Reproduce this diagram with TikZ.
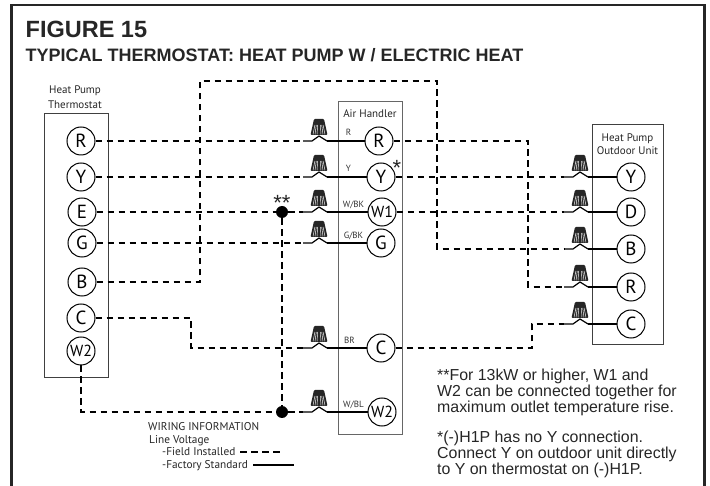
\documentclass[tikz,border=0pt]{standalone}
\usepackage{fontspec}
\setmainfont{Liberation Sans}
\newfontfamily\thinfont{PT Sans}
\tikzset{
  term/.style={circle, draw, line width=1pt, minimum size=28pt, inner sep=0pt, fill=white, font=\thinfont\fontsize{19}{19}\selectfont},
  termsm/.style={term, font=\thinfont\fontsize{16}{16}\selectfont},
  unitbox/.style={draw=black!75, line width=0.9pt},
  unitlabel/.style={font=\thinfont\fontsize{11}{15}\selectfont, align=center, inner sep=0pt, text=black!85},
  colorlabel/.style={font=\thinfont\fontsize{9}{9}\selectfont, inner sep=0pt, text=black!80},
  fieldwire/.style={line width=1.2pt, dash pattern=on 6.5pt off 4.5pt},
  factorywire/.style={line width=1.2pt},
  splice/.style={circle, fill=black, minimum size=12pt, inner sep=0pt},
  starmark/.style={inner sep=0pt, font=\fontsize{22}{22}\selectfont, text=black!85},
  note/.style={font=\fontsize{15.9}{15.7}\selectfont, align=left, anchor=north west, inner sep=0pt, text=black!85},
  legend/.style={font=\thinfont\fontsize{11.3}{12}\selectfont, anchor=base west, inner sep=0pt, text=black!85},
  nut/.pic={
    \coordinate (-l) at (-16,0);
    \coordinate (-r) at (8,0);
    \fill[black!85, rounded corners=1pt] (-8.5,-6) -- (-5,-22) -- (5,-22) -- (8.5,-6) -- cycle;
    \foreach \s in {-6,-4,-2,2,4,6} {
      \draw[white, line width=0.45pt] (\s,-6.5) -- (\s*0.68,-16);
    }
    \draw[factorywire] (-16,0) -- (-7,0) -- (0,-5) -- (8,0);
  }
}
\begin{document}
\begin{tikzpicture}[x=1pt, y=-1pt]
\useasboundingbox (0,0) rectangle (710,486);

\draw[line width=2.2pt, black!85] (11.5,486) -- (11.5,5) -- (704.5,5) -- (704.5,486);

\node[anchor=base west, inner sep=0pt, font=\bfseries\fontsize{23.5}{24}\selectfont, text=black!85] (figtitle) at (25.5,37.5) {FIGURE 15};
\node[anchor=base west, inner sep=0pt, font=\bfseries\fontsize{18}{18}\selectfont, text=black!85] (subtitle) at (25.5,62) {TYPICAL THERMOSTAT: HEAT PUMP W / ELECTRIC HEAT};

% boxes
\draw[unitbox] (44,113.5) rectangle (108,377);
\draw[unitbox, draw=black!60] (338,101.5) rectangle (402,434);
\draw[unitbox] (592.5,124.5) rectangle (663,344);
\node[unitlabel] (tstatlabel) at (75,97.5) {Heat Pump\\Thermostat};
\node[unitlabel] (ahlabel) at (370,114) {Air Handler};
\node[unitlabel, font=\thinfont\fontsize{11}{13}\selectfont] (odlabel) at (627.5,144) {Heat Pump\\Outdoor Unit};

% thermostat
\node[term] (tR) at (81,141) {R};
\node[term] (tY) at (81,177) {Y};
\node[term] (tE) at (82,212) {E};
\node[term] (tG) at (82,243) {G};
\node[term] (tB) at (82,282) {B};
\node[term] (tC) at (81,318) {C};
\node[termsm] (tW) at (81,351) {W2};

% air handler
\node[term] (aR) at (379,141) {R};
\node[term] (aY) at (381,177) {Y};
\node[termsm] (aE) at (382,212) {W1};
\node[term] (aG) at (381,243) {G};
\node[term] (aC) at (381,348) {C};
\node[termsm] (aW) at (382,412) {W2};

% outdoor unit
\node[term] (oY) at (631,177) {Y};
\node[term] (oD) at (631,212) {D};
\node[term] (oB) at (631,249) {B};
\node[term] (oR) at (631,287) {R};
\node[term] (oC) at (631,324) {C};

% wire nuts
\pic (nR) at (319,141) {nut};
\pic (nY) at (319,177) {nut};
\pic (nE) at (319,212) {nut};
\pic (nG) at (319,243) {nut};
\pic (nC) at (319,348) {nut};
\pic (nW) at (319,412) {nut};
\pic (mY) at (580,177) {nut};
\pic (mD) at (580,212) {nut};
\pic (mB) at (580,249) {nut};
\pic (mR) at (580,287) {nut};
\pic (mC) at (580,324) {nut};

% factory wires
\draw[factorywire] (nR-r) -- (aR);
\draw[factorywire] (nY-r) -- (aY);
\draw[factorywire] (nE-r) -- (aE);
\draw[factorywire] (nG-r) -- (aG);
\draw[factorywire] (nC-r) -- (aC);
\draw[factorywire] (nW-r) -- (aW);
\draw[factorywire] (mY-r) -- (oY);
\draw[factorywire] (mD-r) -- (oD);
\draw[factorywire] (mB-r) -- (oB);
\draw[factorywire] (mR-r) -- (oR);
\draw[factorywire] (mC-r) -- (oC);

\node[colorlabel] (lR) at (348.5,132.5) {R};
\node[colorlabel] (lY) at (348.5,168.5) {Y};
\node[colorlabel] (lE) at (353.5,205) {W/BK};
\node[colorlabel] (lG) at (353.5,236) {G/BK};
\node[colorlabel] (lC) at (349.5,340) {BR};
\node[colorlabel] (lW) at (353.5,405) {W/BL};

% splices
\node[splice] (sE) at (282,212) {};
\node[splice] (sW) at (282,412) {};
\node[starmark] (stars) at (282,203) {**};
\node[starmark] (star) at (397,168) {*};

% field wires
\draw[fieldwire] (tR) -- (nR-l);
\draw[fieldwire] (tY) -- (nY-l);
\draw[fieldwire] (tE) -- (sE);
\draw[fieldwire] (sE) -- (nE-l);
\draw[fieldwire] (tG) -- (nG-l);
\draw[fieldwire] (tB) -- (200,282) -- (200,81) -- (437,81) -- (437,249) -- (mB-l);
\draw[fieldwire] (tC) -- (191,318) -- (191,348) -- (nC-l);
\draw[fieldwire] (tW) -- (81,412) -- (sW);
\draw[fieldwire] (sW) -- (nW-l);
\draw[fieldwire] (sE) -- (sW);
\draw[fieldwire] (aR) -- (528,141) -- (528,287) -- (mR-l);
\draw[fieldwire] (aY) -- (mY-l);
\draw[fieldwire] (aE) -- (mD-l);
\draw[fieldwire] (aC) -- (532,348) -- (532,324) -- (mC-l);

% wiring legend
\node[legend] (w1) at (148,431) {WIRING INFORMATION};
\node[legend] (w2) at (149,443) {Line Voltage};
\node[legend] (w3) at (162,455.5) {-Field Installed};
\node[legend] (w4) at (162,468) {-Factory Standard};
\coordinate (fa) at (240,452);
\coordinate (fb) at (280,452);
\coordinate (ga) at (253,465);
\coordinate (gb) at (294,465);
\draw[fieldwire] (fa) -- (fb);
\draw[factorywire] (ga) -- (gb);

% notes
\node[note] (note1) at (437,369) {**For 13kW or higher, W1 and\\W2 can be connected together for\\maximum outlet temperature rise.};
\node[note] (note2) at (437,431) {*(-)H1P has no Y connection.\\Connect Y on outdoor unit directly\\to Y on thermostat on (-)H1P.};

\end{tikzpicture}
\end{document}
